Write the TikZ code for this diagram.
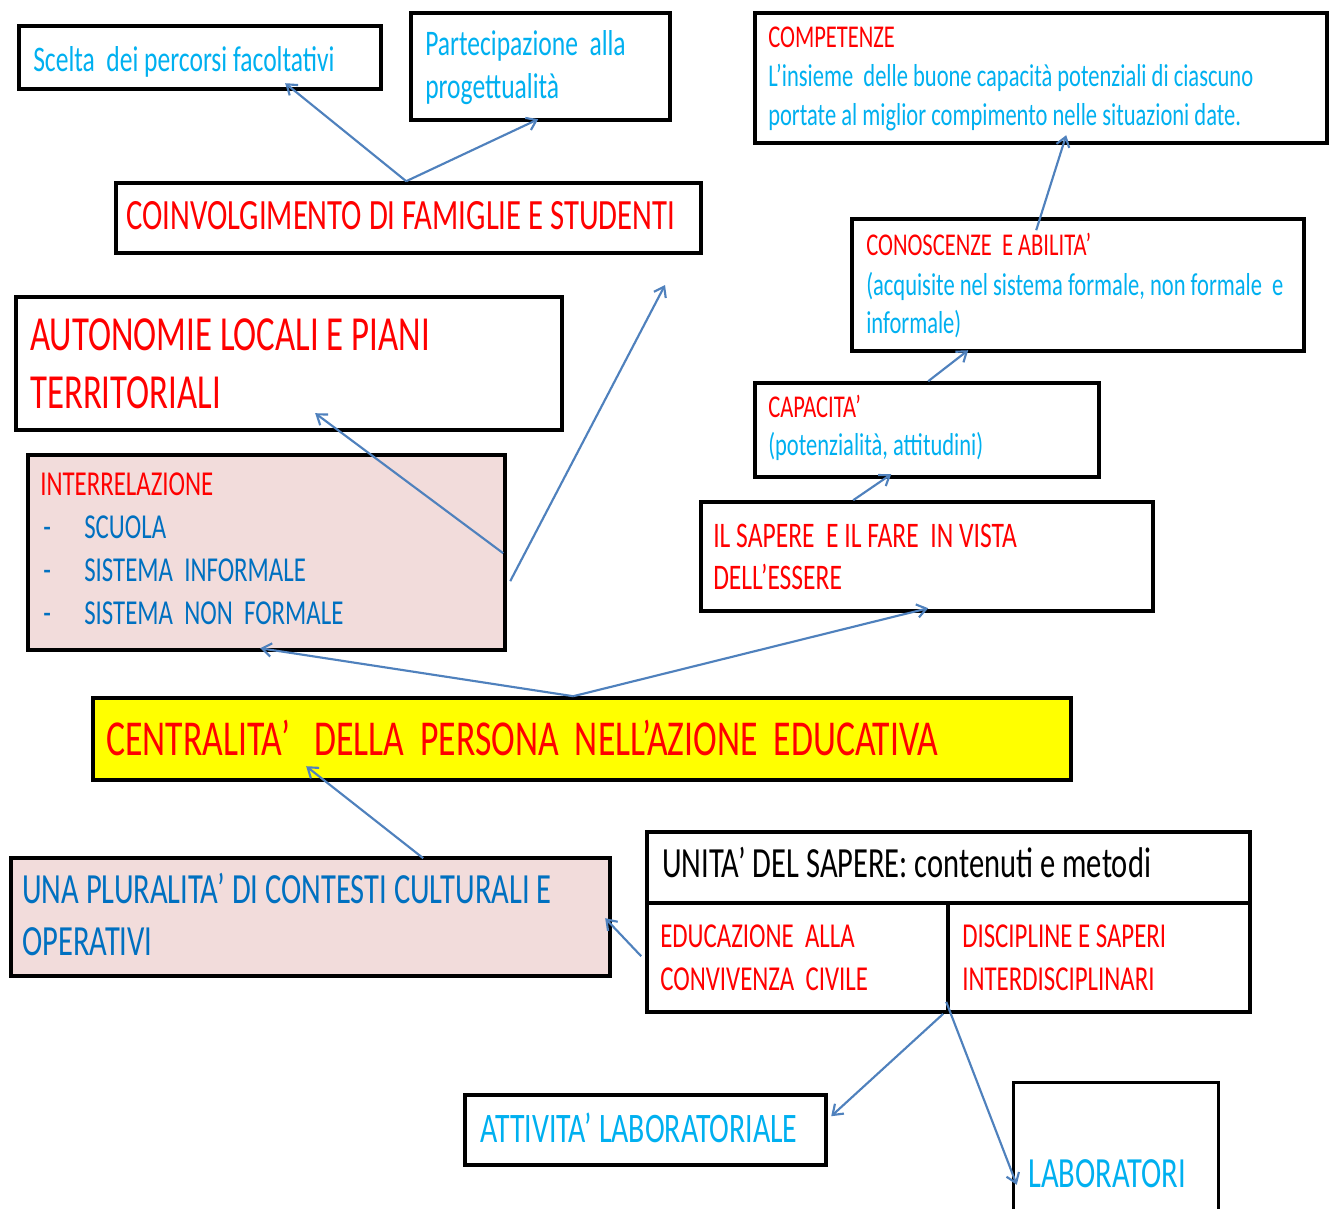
\documentclass[tikz,border=0pt]{standalone}
\usepackage{fontspec}
\setmainfont{Carlito}[FakeStretch=0.71]
\usetikzlibrary{arrows.meta,calc,fit}
\definecolor{tred}{HTML}{FF0000}
\definecolor{tcyan}{HTML}{00B0F0}
\definecolor{tblue}{HTML}{0070C0}
\definecolor{arrowc}{HTML}{4F81BD}
\definecolor{pinkfill}{HTML}{F2DCDB}
\definecolor{yellowfill}{HTML}{FFFF00}
\begin{document}
\begin{tikzpicture}[x=0.75pt,y=-0.75pt,
  box/.style={draw=black,line width=2.7pt,inner sep=0pt},
  arr/.style={draw=arrowc,line width=1.6pt,-{Straight Barb[length=7pt,width=10pt]}},
  txt/.style={anchor=base west,inner sep=0pt},
  fxl/.style={font=\fontsize{37.7}{40}\selectfont},
  fauto/.style={font=\fontsize{36.75}{38}\selectfont},
  fcoin/.style={font=\fontsize{32.4}{35}\selectfont},
  fl/.style={font=\fontsize{32.25}{34}\selectfont},
  fm/.style={font=\fontsize{27}{29}\selectfont},
  fmi/.style={font=\fontsize{26.25}{28}\selectfont},
  fs/.style={font=\fontsize{23.8}{26}\selectfont}]
\useasboundingbox[fill=white] (0,0) rectangle (1330,1208);

% boxes
\node[box,fit={(19,26)(381,89)}] (scelta) {};
\node[box,fit={(411,13)(670,120)}] (parte) {};
\node[box,fit={(116,183)(701,253)}] (coin) {};
\node[box,fit={(755,13)(1327,143)}] (compe) {};
\node[box,fit={(852,219)(1304,351)}] (cono) {};
\node[box,fit={(755,383)(1099,477)}] (capa) {};
\node[box,fit={(701,502)(1153,611)}] (sapere) {};
\node[box,fit={(16,297)(562,430)}] (auto) {};
\node[box,fill=pinkfill,fit={(28,455)(505,650)}] (inter) {};
\node[box,fill=yellowfill,fit={(93,698)(1071,780)}] (centr) {};
\node[box,fill=pinkfill,fit={(11,858)(610,976)}] (plur) {};
\node[box,fit={(647,832)(1250,903)}] (utop) {};
\node[box,fit={(647,903)(948,1012)}] (uleft) {};
\node[box,fit={(948,903)(1250,1012)}] (uright) {};
\node[box,fit={(465,1095)(826,1165)}] (att) {};
\node[inner sep=0pt,fit={(1014,1083)(1218,1212)}] (lab) {};
\draw[line width=2.4pt] (lab.south west) -- (lab.north west) -- (lab.north east) -- (lab.south east);

% texts
\node[txt,fm,text=tcyan] (tscelta) at (33,71) {Scelta~~dei percorsi facoltativi};
\node[txt,fm,text=tcyan] (tparte1) at (425,55) {Partecipazione~~alla};
\node[txt,fm,text=tcyan] (tparte2) at (425,98) {progettualità};
\node[txt,fcoin,text=tred] (tcoin) at (126,229) {COINVOLGIMENTO DI FAMIGLIE E STUDENTI};
\node[txt,fs,text=tred] (tcompe1) at (768,47) {COMPETENZE};
\node[txt,fs,text=tcyan] (tcompe2) at (768,86) {L’insieme~~delle buone capacità potenziali di ciascuno};
\node[txt,fs,text=tcyan] (tcompe3) at (768,125) {portate al miglior compimento nelle situazioni date.};
\node[txt,fs,text=tred] (tcono1) at (866,255) {CONOSCENZE~~E ABILITA’};
\node[txt,fs,text=tcyan] (tcono2) at (866,295) {(acquisite nel sistema formale, non formale~~e};
\node[txt,fs,text=tcyan] (tcono3) at (866,333) {informale)};
\node[txt,fs,text=tred] (tcapa1) at (768,417) {CAPACITA’};
\node[txt,fs,text=tcyan] (tcapa2) at (768,455) {(potenzialità, attitudini)};
\node[txt,fm,text=tred] (tsap1) at (713,547) {IL SAPERE~~E IL FARE~~IN VISTA};
\node[txt,fm,text=tred] (tsap2) at (713,589) {DELL’ESSERE};
\node[txt,fauto,text=tred] (tauto1) at (30,350) {AUTONOMIE LOCALI E PIANI};
\node[txt,fauto,text=tred] (tauto2) at (30,408) {TERRITORIALI};
\node[txt,fmi,text=tred] (tint0) at (40,495) {INTERRELAZIONE};
\node[txt,fmi,text=tblue] (td1) at (43,538) {-};
\node[txt,fmi,text=tblue] (tint1) at (84,538) {SCUOLA};
\node[txt,fmi,text=tblue] (td2) at (43,581) {-};
\node[txt,fmi,text=tblue] (tint2) at (84,581) {SISTEMA~~INFORMALE};
\node[txt,fmi,text=tblue] (td3) at (43,624) {-};
\node[txt,fmi,text=tblue] (tint3) at (84,624) {SISTEMA~~NON~~FORMALE};
\node[txt,fxl,text=tred] (tcentr) at (106,755) {CENTRALITA’~~~DELLA~~PERSONA~~NELL’AZIONE~~EDUCATIVA};
\node[txt,fl,text=tblue] (tplur1) at (22,903) {UNA PLURALITA’ DI CONTESTI CULTURALI E};
\node[txt,fl,text=tblue] (tplur2) at (22,955) {OPERATIVI};
\node[txt,fl,text=black] (tutop) at (662,877) {UNITA’ DEL SAPERE: contenuti e metodi};
\node[txt,fmi,text=tred] (tul1) at (660,947) {EDUCAZIONE~~ALLA};
\node[txt,fmi,text=tred] (tul2) at (660,990) {CONVIVENZA~~CIVILE};
\node[txt,fmi,text=tred] (tur1) at (962,947) {DISCIPLINE E SAPERI};
\node[txt,fmi,text=tred] (tur2) at (962,990) {INTERDISCIPLINARI};
\node[txt,font=\fontsize{31.5}{33}\selectfont,text=tcyan] (tatt) at (480,1142) {ATTIVITA’ LABORATORIALE};
\node[txt,fl,text=tcyan] (tlab) at (1028,1187) {LABORATORI};

% connectors
\coordinate (free) at (665,285);
\draw[arr] ($(coin.north west)+(292,0)$) -- ($(scelta.north west)+(268,59)$);
\draw[arr] ($(coin.north west)+(292,0)$) -- ($(parte.north west)+(129,108)$);
\draw[arr] ($(cono.north west)+(186,13)$) -- ($(compe.north west)+(313,124)$);
\draw[arr] ($(capa.north west)+(175,0)$) -- ($(cono.north west)+(118,133)$);
\draw[arr] ($(sapere.north west)+(154,0)$) -- ($(capa.north west)+(138,93)$);
\draw[arr] ($(centr.north west)+(482,0)$) -- ($(inter.north west)+(234,195)$);
\draw[arr] ($(centr.north west)+(482,0)$) -- ($(sapere.north west)+(229,108)$);
\draw[arr] ($(inter.north west)+(477,100)$) -- ($(auto.north west)+(301,118)$);
\draw[arr] ($(inter.north west)+(484,128)$) -- (free);
\draw[arr] ($(plur.north west)+(414,2)$) -- ($(centr.north west)+(215,70)$);
\draw[arr] ($(uleft.north west)+(-4,55)$) -- ($(plur.north west)+(596,62)$);
\draw[arr] ($(uright.south west)+(-3,0)$) -- ($(att.north west)+(368,23)$);
\draw[arr] ($(uright.south west)+(0,-12)$) -- ($(lab.north west)+(3,102)$);
\end{tikzpicture}
\end{document}
